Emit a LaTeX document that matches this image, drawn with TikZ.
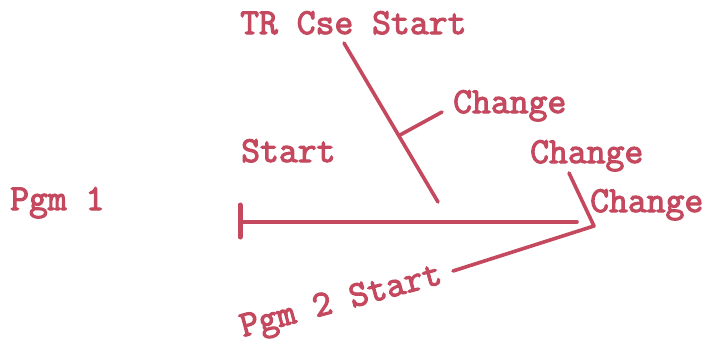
\documentclass[tikz,border=0pt]{standalone}
\usepackage{fontspec}
\setmonofont{Latin Modern Mono}[FakeBold=3]
\usepackage{tikz}
\usetikzlibrary{positioning}
\definecolor{ink}{RGB}{196,72,94}
\tikzset{
  lbl/.style={inner sep=0pt, text=ink, font=\ttfamily\bfseries\fontsize{36.6}{40}\selectfont},
  wire/.style={draw=ink, line width=3.6pt, line cap=round, line join=round},
  tick/.style={draw=ink, line width=5pt, line cap=round},
}

\begin{document}
\begin{tikzpicture}[x=1pt, y=-1pt]
\useasboundingbox (0,0) rectangle (704,343);
% labels
\node[lbl, anchor=base west] (trcse) at (240,34) {TR Cse Start};
\node[lbl, anchor=base west] (chg1) at (453,113) {Change};
\node[lbl, anchor=base west] (start) at (241,162) {Start};
\node[lbl, anchor=base west] (chg2) at (530,163) {Change};
\node[lbl, anchor=base west] (chg3) at (590,212) {Change};
\node[lbl, anchor=base west] (pgm1) at (10,210) {Pgm 1};
\node[lbl, anchor=base west, rotate=15] (pgm2) at (243,337) {Pgm 2 Start};
% program 1 line
\coordinate (p1a) at (240,222);
\coordinate (p1b) at (577,222);
\coordinate (bar1) at (240,205);
\coordinate (bar2) at (240,237);
\draw[tick] (bar1) -- (bar2);
\draw[wire] (p1a) -- (p1b);
% TR case line
\coordinate (tra) at (344,43);
\coordinate (trb) at (438,202);
\coordinate (trj) at (400,135);
\coordinate (trc) at (442,112);
\draw[wire] (tra) -- (trb);
\draw[wire] (trj) -- (trc);
% program 2 line
\coordinate (p2a) at (569,173);
\coordinate (p2k) at (594,226);
\coordinate (p2b) at (453,271);
\draw[wire] (p2a) -- (p2k) -- (p2b);
\end{tikzpicture}
\end{document}
